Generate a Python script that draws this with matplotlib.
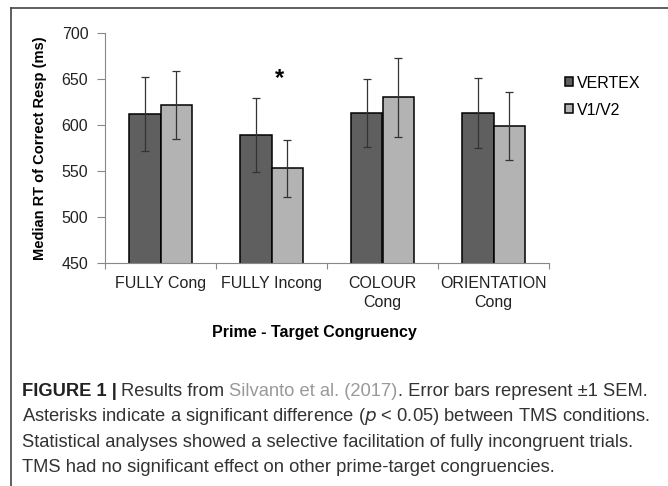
import numpy as np
import matplotlib.pyplot as plt
from matplotlib.lines import Line2D

categories = ["FULLY Cong", "FULLY Incong", "COLOUR\nCong", "ORIENTATION\nCong"]
vertex = [612, 589, 613, 613]
vertex_err = [40, 40, 37, 38]
v1v2 = [622, 553, 630, 599]
v1v2_err = [37, 31, 43, 37]
series_names = ["VERTEX", "V1/V2"]

plt.rcParams['font.family'] = ['Liberation Sans', 'DejaVu Sans']

W, H = 668, 486
fig = plt.figure(figsize=(W / 100, H / 100), dpi=100)

# frame around figure
fig.add_artist(Line2D([11 / W, 1], [1 - 8 / H, 1 - 8 / H], color='#444444', lw=1.2))
fig.add_artist(Line2D([11 / W, 11 / W], [0, 1 - 8 / H], color='#444444', lw=1.2))

ax = fig.add_axes([105 / W, 1 - 263 / H, 444 / W, 230 / H])
x = np.arange(len(categories))
w = 0.28
ekw = dict(ecolor='#333333', elinewidth=0.9, capsize=3, capthick=0.9)
ax.bar(x - w / 2, vertex, w, color='#5f5f5f', edgecolor='black', lw=1.1,
       yerr=vertex_err, error_kw=ekw, label=series_names[0])
ax.bar(x + w / 2, v1v2, w, color='#b3b3b3', edgecolor='black', lw=1.1,
       yerr=v1v2_err, error_kw=ekw, label=series_names[1])

ax.text(x[1] + 0.07, 651, "*", ha='center', va='center', fontsize=17, fontweight='bold')

ax.set_ylim(450, 700)
ax.set_xlim(-0.5, 3.5)
ax.set_yticks([450, 500, 550, 600, 650, 700])
ax.set_xticks([-0.5, 0.5, 1.5, 2.5, 3.5])
ax.set_xticklabels([])
ax.set_xticks(x, minor=True)
ax.set_xticklabels(categories, minor=True, fontsize=11.5, linespacing=1.38)
ax.tick_params(axis='x', which='minor', length=0, pad=9, labelcolor='#222222')
ax.tick_params(axis='x', which='major', length=4, direction='out', color='#888888')
ax.tick_params(axis='y', length=6, color='#888888', labelsize=11.5, pad=6, labelcolor='#222222')
for s in ['top', 'right']:
    ax.spines[s].set_visible(False)
for s in ['left', 'bottom']:
    ax.spines[s].set_color('#888888')

ax.set_ylabel("Median RT of Correct Resp (ms)", fontsize=10.5, fontweight='bold')
ax.yaxis.set_label_coords(-(105 - 47) / 444, 0.5)
fig.text(314 / W, 1 - 332 / H, "Prime - Target Congruency", ha='center', va='center',
         fontsize=11.5, fontweight='bold')

ax.legend(loc='upper left', bbox_to_anchor=(1.036, 0.815), frameon=False, fontsize=11.5,
          borderaxespad=0, borderpad=0,
          handlelength=0.5, handleheight=0.5, handletextpad=0.25, labelspacing=0.75)

# caption
cap_y = [391, 416, 442, 467]
fs = 13.2
dark = '#333333'
t1 = fig.text(22 / W, 1 - cap_y[0] / H, "FIGURE 1 |", fontsize=fs, fontweight='bold', va='center',
              color='#222222')
fig.canvas.draw()
r = fig.canvas.get_renderer()
bb = t1.get_window_extent(r)
t2 = fig.text((bb.x1 + 4) / W, 1 - cap_y[0] / H, "Results from ", fontsize=fs, va='center', color=dark)
bb = t2.get_window_extent(r)
t3 = fig.text(bb.x1 / W, 1 - cap_y[0] / H, "Silvanto et al. (2017)", fontsize=fs, va='center',
              color='#999999')
bb = t3.get_window_extent(r)
fig.text(bb.x1 / W, 1 - cap_y[0] / H, ". Error bars represent \u00b11 SEM.", fontsize=fs,
         va='center', color=dark)
fig.text(22 / W, 1 - cap_y[1] / H,
         "Asterisks indicate a significant difference ($p$ < 0.05) between TMS conditions.",
         fontsize=fs, va='center', color=dark)
fig.text(22 / W, 1 - cap_y[2] / H,
         "Statistical analyses showed a selective facilitation of fully incongruent trials.",
         fontsize=fs, va='center', color=dark)
fig.text(22 / W, 1 - cap_y[3] / H,
         "TMS had no significant effect on other prime-target congruencies.",
         fontsize=fs, va='center', color=dark)

fig.savefig("out.png", dpi=100)
